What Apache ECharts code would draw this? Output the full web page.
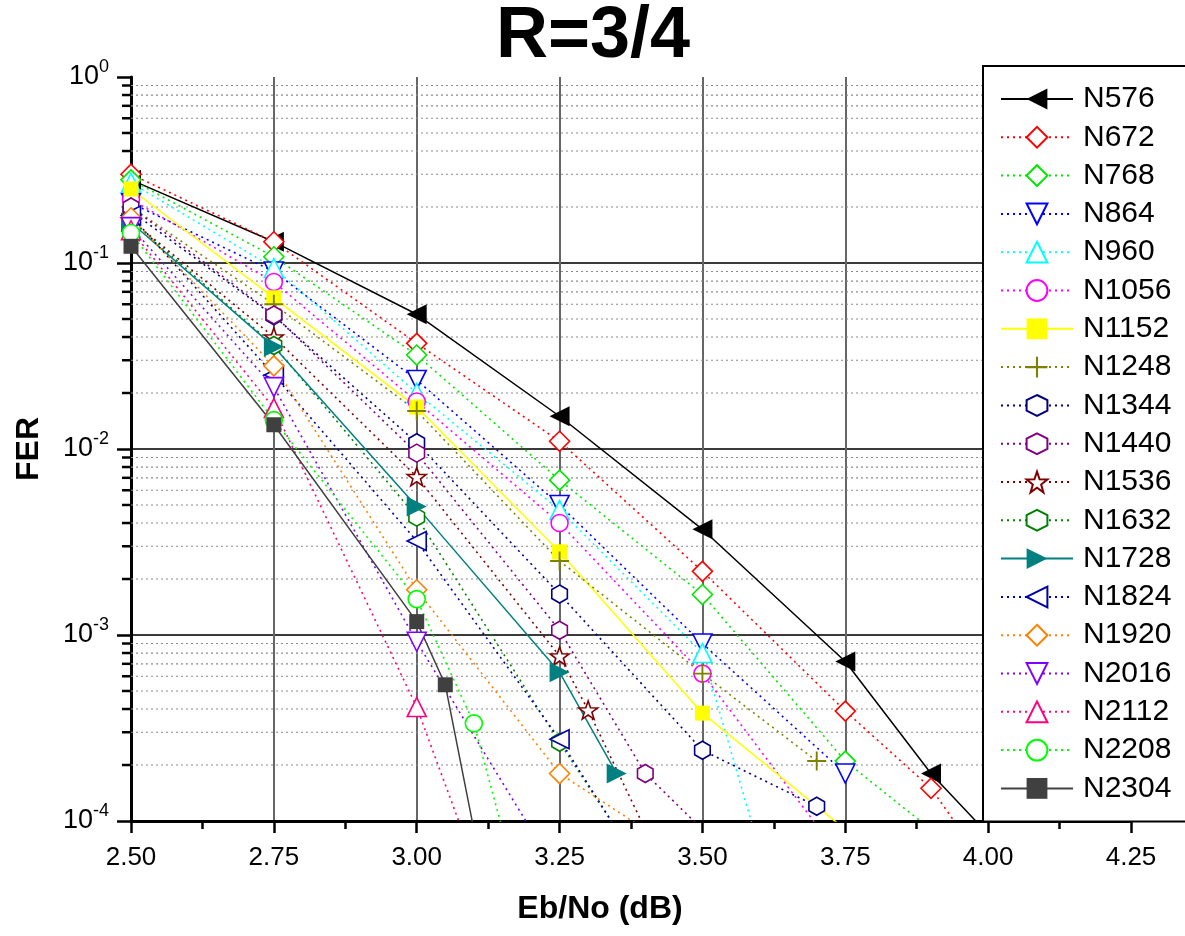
<!DOCTYPE html>
<html>
<head>
<meta charset="utf-8">
<title>R=3/4 FER vs Eb/No</title>
<script src="https://cdn.jsdelivr.net/npm/echarts@6/dist/echarts.min.js"></script>
<style>
  html, body { margin: 0; padding: 0; background: #fff; }
  #chart { width: 1185px; height: 936px; }
</style>
</head>
<body>
<div id="chart"></div>
<script>
// FER curves, one [Eb/No (dB), FER] list per block length
const N576  = [[2.5, 0.28], [2.75, 0.13], [3.0, 0.053], [3.25, 0.015], [3.5, 0.0037], [3.75, 7.2e-4], [3.9, 1.8e-4], [4.0, 8.5e-5]];
const N672  = [[2.5, 0.30], [2.75, 0.13], [3.0, 0.037], [3.25, 0.011], [3.5, 0.0022], [3.75, 3.9e-4], [3.9, 1.5e-4], [4.0, 5.5e-5]];
const N768  = [[2.5, 0.28], [2.75, 0.108], [3.0, 0.032], [3.25, 0.0068], [3.5, 0.00165], [3.75, 2.1e-4], [3.9, 9e-5]];
const N864  = [[2.5, 0.21], [2.75, 0.09], [3.0, 0.0235], [3.25, 0.005], [3.5, 9e-4], [3.75, 1.8e-4]];
const N960  = [[2.5, 0.27], [2.75, 0.094], [3.0, 0.020], [3.25, 0.0047], [3.5, 8e-4], [3.6, 7e-5]];
const N1056 = [[2.5, 0.22], [2.75, 0.079], [3.0, 0.018], [3.25, 0.004], [3.5, 6.2e-4], [3.7, 9.5e-5]];
const N1152 = [[2.5, 0.25], [2.75, 0.065], [3.0, 0.0168], [3.25, 0.0028], [3.5, 3.8e-4], [3.75, 9e-5]];
const N1248 = [[2.5, 0.20], [2.75, 0.06], [3.0, 0.016], [3.25, 0.0025], [3.5, 6.2e-4], [3.7, 2.1e-4]];
const N1344 = [[2.5, 0.19], [2.75, 0.052], [3.0, 0.0108], [3.25, 0.00166], [3.5, 2.4e-4], [3.7, 1.2e-4]];
const N1440 = [[2.5, 0.20], [2.75, 0.0525], [3.0, 0.0095], [3.25, 0.00106], [3.4, 1.8e-4], [3.5, 9e-5]];
const N1536 = [[2.5, 0.17], [2.75, 0.04], [3.0, 0.0071], [3.25, 7.7e-4], [3.3, 3.95e-4], [3.4, 9e-5]];
const N1632 = [[2.5, 0.17], [2.75, 0.036], [3.0, 0.0043], [3.25, 2.65e-4], [3.35, 9e-5]];
const N1728 = [[2.5, 0.165], [2.75, 0.0355], [3.0, 0.0049], [3.25, 6.3e-4], [3.35, 1.8e-4]];
const N1824 = [[2.5, 0.18], [2.75, 0.025], [3.0, 0.0032], [3.25, 2.75e-4], [3.35, 9e-5]];
const N1920 = [[2.5, 0.175], [2.75, 0.028], [3.0, 0.00175], [3.25, 1.8e-4], [3.4, 9e-5]];
const N2016 = [[2.5, 0.156], [2.75, 0.0215], [3.0, 9.2e-4], [3.2, 9e-5]];
const N2112 = [[2.5, 0.15], [2.75, 0.0166], [3.0, 4.1e-4], [3.1, 6e-5]];
const N2208 = [[2.5, 0.145], [2.75, 0.0143], [3.0, 0.00156], [3.1, 3.35e-4], [3.15, 9e-5]];
const N2304 = [[2.5, 0.123], [2.75, 0.0135], [3.0, 0.00118], [3.05, 5.4e-4], [3.1, 9e-5]];

// Axis ranges and the 2..9 sub-decade gridline values
const xRange = [2.5, 4.25];
const yRange = [1e-4, 1];
const minorValues = [];
for (let e = -4; e < 0; e++) {
  for (let m = 2; m <= 9; m++) minorValues.push(m * Math.pow(10, e));
}

const FONT = "'Liberation Sans', Arial, sans-serif";

// Marker shapes
const HEX = 'path://M0,-10L8.66,-5L8.66,5L0,10L-8.66,5L-8.66,-5Z';
const STAR = 'path://M0,-10L2.35,-3.24L9.51,-3.09L3.8,1.24L5.88,8.09L0,4L-5.88,8.09L-3.8,1.24L-9.51,-3.09L-2.35,-3.24Z';
const PLUS = 'path://M-1,-10L1,-10L1,-1L10,-1L10,1L1,1L1,10L-1,10L-1,1L-10,1L-10,-1L-1,-1Z';

// name, data, color, symbol, rotate, size, filled, solid line
const curves = [
  ['N576',  N576,  '#000000', 'triangle', 90,  20, true,  true],
  ['N672',  N672,  '#ff0000', 'diamond',  0,   20, false, false],
  ['N768',  N768,  '#00e800', 'diamond',  0,   20, false, false],
  ['N864',  N864,  '#0000ff', 'triangle', 180, 19, false, false],
  ['N960',  N960,  '#00ffff', 'triangle', 0,   19, false, false],
  ['N1056', N1056, '#ff00ff', 'circle',   0,   17, false, false],
  ['N1152', N1152, '#ffff00', 'rect',     0,   15, true,  true],
  ['N1248', N1248, '#808000', PLUS,       0,   19, true,  false],
  ['N1344', N1344, '#000080', HEX,        0,   18, false, false],
  ['N1440', N1440, '#800080', HEX,        0,   18, false, false],
  ['N1536', N1536, '#800000', STAR,       0,   19, false, false],
  ['N1632', N1632, '#008000', HEX,        0,   18, false, false],
  ['N1728', N1728, '#008080', 'triangle', -90, 20, true,  true],
  ['N1824', N1824, '#0000a8', 'triangle', 90,  19, false, false],
  ['N1920', N1920, '#ff8000', 'diamond',  0,   20, false, false],
  ['N2016', N2016, '#8000ff', 'triangle', 180, 19, false, false],
  ['N2112', N2112, '#ff0080', 'triangle', 0,   19, false, false],
  ['N2208', N2208, '#00ff00', 'circle',   0,   17, false, false],
  ['N2304', N2304, '#404040', 'rect',     0,   15, true,  true]
];

const lineSeries = curves.map(([name, data, color, symbol, rot, size, filled, solid]) => ({
  name: name,
  type: 'line',
  data: data,
  z: 3,
  clip: true,
  symbol: symbol,
  symbolSize: size,
  symbolRotate: rot,
  symbolKeepAspect: true,
  showAllSymbol: true,
  lineStyle: solid
    ? { color: color, width: 1.5, type: 'solid' }
    : { color: color, width: 1.6, type: [2, 4] },
  itemStyle: filled
    ? { color: color, borderColor: color, borderWidth: 0, opacity: 1 }
    : { color: '#ffffff', borderColor: color, borderWidth: 1.6, opacity: 1 },
  emphasis: { disabled: true }
}));

// Sub-decade dotted gridlines and the short ticks on the FER axis
const minorSeries = {
  name: 'minor',
  type: 'custom',
  z: 1,
  silent: true,
  clip: false,
  data: minorValues.map(v => [xRange[0], v]),
  encode: { x: 0, y: 1 },
  renderItem: function (params, api) {
    const v = api.value(1);
    const p0 = api.coord([xRange[0], v]);
    const p1 = api.coord([xRange[1], v]);
    return {
      type: 'group',
      children: [
        { type: 'line', shape: { x1: p0[0], y1: p0[1], x2: p1[0], y2: p1[1] },
          style: { stroke: '#8a8a8a', lineWidth: 1.2, lineDash: [2, 3] } },
        { type: 'line', shape: { x1: p0[0] - 9, y1: p0[1], x2: p0[0], y2: p0[1] },
          style: { stroke: '#000', lineWidth: 2.5 } }
      ]
    };
  }
};

const chart = echarts.init(document.getElementById('chart'), null, { renderer: 'canvas' });
chart.setOption({
  animation: false,
  backgroundColor: '#ffffff',
  title: {
    text: 'R=3/4',
    left: 588,
    top: -4,
    textAlign: 'center',
    textStyle: { fontFamily: FONT, fontSize: 72, fontWeight: 'bold', color: '#000' }
  },
  grid: { left: 131, top: 77, right: 54, bottom: 115, containLabel: false },
  xAxis: {
    type: 'value',
    min: xRange[0],
    max: xRange[1],
    interval: 0.25,
    name: 'Eb/No (dB)',
    nameLocation: 'middle',
    nameGap: 72,
    nameTextStyle: { fontFamily: FONT, fontSize: 32, fontWeight: 'bold', color: '#000', padding: [0, 62, 0, 0] },
    axisLine: { show: true, onZero: false, lineStyle: { color: '#000', width: 3 } },
    axisTick: { show: true, inside: false, length: 12, lineStyle: { color: '#000', width: 2.5 } },
    minorTick: { show: true, splitNumber: 2, length: 8, lineStyle: { color: '#000', width: 2.5 } },
    axisLabel: {
      margin: 24,
      fontFamily: FONT, fontSize: 26, color: '#000',
      formatter: v => v.toFixed(2)
    },
    splitLine: { show: true, lineStyle: { color: '#666', width: 2 } },
    minorSplitLine: { show: false }
  },
  yAxis: {
    type: 'log',
    logBase: 10,
    min: yRange[0],
    max: yRange[1],
    name: 'FER',
    nameLocation: 'middle',
    nameGap: 86,
    nameRotate: 90,
    nameTextStyle: { fontFamily: FONT, fontSize: 32, fontWeight: 'bold', color: '#000' },
    axisLine: { show: true, onZero: false, lineStyle: { color: '#000', width: 3 } },
    axisTick: { show: true, inside: false, length: 14, lineStyle: { color: '#000', width: 2.5 } },
    axisLabel: {
      margin: 22,
      color: '#000',
      formatter: v => '{b|10}{s|' + Math.round(Math.log10(v)) + '}',
      rich: {
        b: { fontFamily: FONT, fontSize: 27, color: '#000' },
        s: { fontFamily: FONT, fontSize: 18, color: '#000', padding: [0, 0, 20, 0] }
      }
    },
    splitLine: {
      show: true,
      lineStyle: { color: ['#3a3a3a', '#3a3a3a', '#3a3a3a', '#3a3a3a', 'rgba(0,0,0,0)'], width: 2 }
    }
  },
  legend: {
    data: curves.map(c => c[0]),
    orient: 'vertical',
    left: 983,
    top: 66,
    z: 10,
    backgroundColor: '#ffffff',
    borderColor: '#000',
    borderWidth: 2,
    padding: [18, 40, 18, 17],
    itemWidth: 72,
    itemHeight: 26,
    itemGap: 8.3,
    selectedMode: false,
    textStyle: { fontFamily: FONT, fontSize: 30, color: '#000', lineHeight: 30, padding: [0, 0, 0, 5] }
  },
  series: [minorSeries].concat(lineSeries)
});
</script>
</body>
</html>
